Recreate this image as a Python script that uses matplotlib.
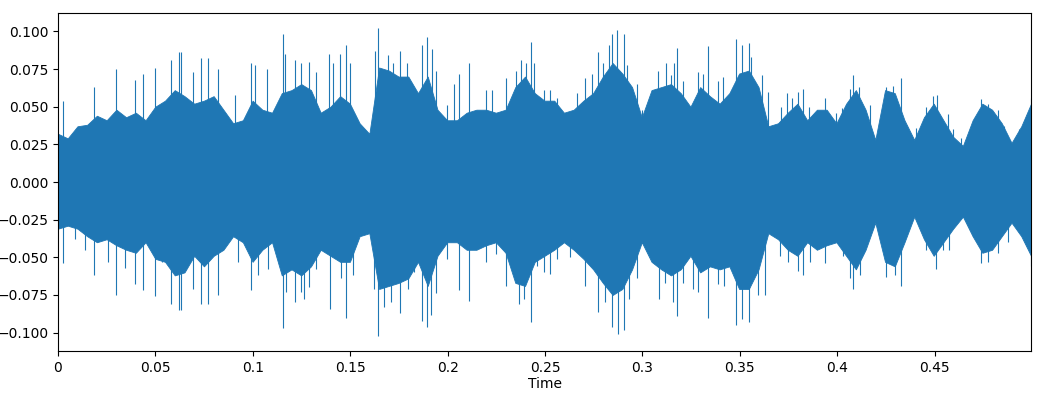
import numpy as np
import matplotlib
matplotlib.use("Agg")
import matplotlib.pyplot as plt

# Duration of the clip (s)
duration = 0.4995

# Dense core of the waveform envelope, sampled every 0.005 s
core_upper = [0.032, 0.029, 0.037, 0.038, 0.044, 0.041, 0.048, 0.043, 0.046, 0.041,
              0.050, 0.054, 0.061, 0.057, 0.052, 0.054, 0.057, 0.048, 0.039, 0.041,
              0.054, 0.048, 0.046, 0.059, 0.061, 0.065, 0.061, 0.046, 0.050, 0.057,
              0.052, 0.039, 0.032, 0.076, 0.074, 0.070, 0.070, 0.059, 0.070, 0.048,
              0.041, 0.041, 0.046, 0.048, 0.048, 0.046, 0.048, 0.063, 0.070, 0.059,
              0.054, 0.054, 0.046, 0.048, 0.054, 0.059, 0.070, 0.079, 0.072, 0.063,
              0.043, 0.061, 0.063, 0.065, 0.059, 0.050, 0.063, 0.057, 0.052, 0.059,
              0.072, 0.074, 0.063, 0.037, 0.039, 0.046, 0.052, 0.041, 0.048, 0.048,
              0.039, 0.052, 0.061, 0.048, 0.028, 0.061, 0.059, 0.041, 0.028, 0.043,
              0.052, 0.041, 0.030, 0.024, 0.041, 0.052, 0.048, 0.039, 0.026, 0.037,
              0.052]
core_lower = [-0.031, -0.029, -0.031, -0.036, -0.040, -0.038, -0.042, -0.045, -0.047, -0.040,
              -0.051, -0.053, -0.062, -0.060, -0.049, -0.056, -0.049, -0.045, -0.036, -0.040,
              -0.053, -0.045, -0.040, -0.062, -0.058, -0.062, -0.056, -0.045, -0.049, -0.053,
              -0.053, -0.036, -0.034, -0.071, -0.069, -0.067, -0.064, -0.053, -0.069, -0.049,
              -0.040, -0.040, -0.045, -0.045, -0.042, -0.040, -0.047, -0.067, -0.069, -0.053,
              -0.049, -0.045, -0.040, -0.045, -0.051, -0.058, -0.067, -0.075, -0.071, -0.058,
              -0.040, -0.053, -0.058, -0.062, -0.058, -0.049, -0.060, -0.056, -0.058, -0.056,
              -0.071, -0.071, -0.058, -0.034, -0.038, -0.045, -0.049, -0.040, -0.045, -0.042,
              -0.040, -0.049, -0.058, -0.045, -0.027, -0.053, -0.056, -0.040, -0.023, -0.038,
              -0.049, -0.040, -0.031, -0.023, -0.036, -0.047, -0.045, -0.036, -0.027, -0.036,
              -0.049]

# Positive spikes (time s, amplitude)
spike_up_t = [0.0027, 0.0186, 0.030, 0.0395, 0.0438, 0.0498, 0.058, 0.0623,
              0.063, 0.0693, 0.0736, 0.077, 0.0821, 0.091, 0.0989, 0.1013, 0.1071,
              0.1157, 0.1164, 0.1215, 0.1249,
              0.129, 0.1324, 0.1393, 0.141, 0.1449, 0.1478, 0.150, 0.1627, 0.1644,
              0.1692, 0.172, 0.1756, 0.179, 0.1867,
              0.1893, 0.1922, 0.1939, 0.1995, 0.2033, 0.2058, 0.211, 0.2195, 0.223,
              0.2298, 0.235, 0.2375, 0.240, 0.2427, 0.2444, 0.2495,
              0.2524, 0.2562, 0.2664, 0.2707, 0.2741, 0.277, 0.280, 0.2827, 0.2844,
              0.287, 0.2904, 0.292, 0.2972, 0.300, 0.308, 0.3121, 0.3147,
              0.316, 0.3179, 0.321, 0.3287, 0.331, 0.3338, 0.339, 0.3416, 0.348,
              0.351, 0.3549, 0.356, 0.3612, 0.3643, 0.371, 0.3744, 0.3766,
              0.3799, 0.3824, 0.3855, 0.3936, 0.3996, 0.4027, 0.4065, 0.4081, 0.4112,
              0.4167, 0.4252, 0.4286, 0.4329, 0.4406,
              0.4456, 0.449, 0.451, 0.4533, 0.4567, 0.4593, 0.4635, 0.4687, 0.4713,
              0.4738, 0.4772, 0.4824, 0.4858, 0.4935, 0.497, 0.4995]
spike_up_v = [0.054, 0.063, 0.075, 0.068, 0.072, 0.076, 0.081, 0.086,
              0.086, 0.073, 0.082, 0.082, 0.075, 0.058, 0.079, 0.078, 0.075,
              0.098, 0.085, 0.081, 0.079,
              0.080, 0.073, 0.085, 0.079, 0.085, 0.091, 0.079, 0.087, 0.102,
              0.084, 0.079, 0.087, 0.079, 0.091,
              0.096, 0.088, 0.074, 0.051, 0.065, 0.072, 0.079, 0.061, 0.061,
              0.069, 0.074, 0.081, 0.079, 0.093, 0.079, 0.061,
              0.061, 0.056, 0.059, 0.069, 0.072, 0.086, 0.079, 0.091, 0.098,
              0.101, 0.098, 0.078, 0.065, 0.048, 0.074, 0.079, 0.071,
              0.079, 0.089, 0.067, 0.073, 0.072, 0.090, 0.067, 0.070, 0.095,
              0.091, 0.092, 0.083, 0.071, 0.060, 0.050, 0.059, 0.056,
              0.060, 0.062, 0.050, 0.056, 0.046, 0.049, 0.062, 0.071, 0.063,
              0.051, 0.063, 0.064, 0.069, 0.036,
              0.050, 0.057, 0.058, 0.041, 0.045, 0.035, 0.029, 0.035, 0.043,
              0.055, 0.052, 0.048, 0.037, 0.035, 0.043, 0.056]

# Negative spikes (time s, amplitude)
spike_dn_t = [0.0027, 0.0087, 0.014, 0.0187, 0.0258, 0.030, 0.0344, 0.0395, 0.0438,
              0.0498, 0.0532, 0.058, 0.0621,
              0.063, 0.0693, 0.0736, 0.077, 0.0821, 0.0924, 0.0993, 0.1027, 0.1078,
              0.1157, 0.1172, 0.1218, 0.1249,
              0.1261, 0.129, 0.1324, 0.1398, 0.1453, 0.1479, 0.1513, 0.1621, 0.1645,
              0.1672, 0.171, 0.1756, 0.1795, 0.1830, 0.1867,
              0.1893, 0.1917, 0.1939, 0.1999, 0.2058, 0.211, 0.2195, 0.2247, 0.2298,
              0.2367, 0.2392, 0.2427, 0.2461, 0.2495,
              0.2524, 0.2562, 0.2630, 0.2707, 0.277, 0.281, 0.2844, 0.2873, 0.2904,
              0.2930, 0.2972, 0.3084, 0.3118, 0.3147,
              0.3156, 0.318, 0.321, 0.3262, 0.3287, 0.3338, 0.339, 0.342, 0.348,
              0.351, 0.3549, 0.3595, 0.363, 0.3707, 0.3749,
              0.3799, 0.3825, 0.386, 0.3936, 0.403, 0.4065, 0.4081, 0.4116, 0.4252,
              0.4295, 0.4329,
              0.4456, 0.4507, 0.4541, 0.4576, 0.4695, 0.4738, 0.4772, 0.4824, 0.4875,
              0.497, 0.4995]
spike_dn_v = [-0.054, -0.038, -0.045, -0.062, -0.053, -0.075, -0.057, -0.068, -0.072,
              -0.076, -0.053, -0.081, -0.085,
              -0.085, -0.071, -0.081, -0.081, -0.075, -0.053, -0.072, -0.062, -0.058,
              -0.097, -0.073, -0.080, -0.073,
              -0.078, -0.070, -0.058, -0.084, -0.064, -0.090, -0.062, -0.071, -0.102,
              -0.083, -0.080, -0.087, -0.071, -0.060, -0.092,
              -0.096, -0.088, -0.074, -0.051, -0.072, -0.079, -0.053, -0.048, -0.069,
              -0.081, -0.078, -0.093, -0.056, -0.060,
              -0.061, -0.051, -0.050, -0.069, -0.086, -0.080, -0.096, -0.101, -0.098,
              -0.078, -0.064, -0.078, -0.067, -0.060,
              -0.080, -0.089, -0.067, -0.071, -0.073, -0.090, -0.068, -0.069, -0.095,
              -0.091, -0.093, -0.075, -0.075, -0.049, -0.053,
              -0.059, -0.062, -0.053, -0.054, -0.049, -0.064, -0.071, -0.062, -0.063,
              -0.062, -0.069,
              -0.045, -0.058, -0.045, -0.045, -0.036, -0.054, -0.053, -0.047, -0.040,
              -0.038, -0.056]

x_ticks = [0, 0.05, 0.1, 0.15, 0.2, 0.25, 0.3, 0.35, 0.4, 0.45]
x_tick_labels = ["0", "0.05", "0.1", "0.15", "0.2", "0.25", "0.3", "0.35", "0.4", "0.45"]
y_ticks = [-0.100, -0.075, -0.050, -0.025, 0.0, 0.025, 0.050, 0.075, 0.100]

color = "#1f77b4"
t_core = np.linspace(0, duration, len(core_upper))

fig = plt.figure(figsize=(10.43, 3.99), dpi=100)
ax = fig.add_axes([58 / 1043, 1 - 351 / 399, (1031 - 58) / 1043, (351 - 13) / 399])

ax.fill_between(t_core, core_lower, core_upper, color=color, linewidth=0.6,
                edgecolor=color)
ax.vlines(spike_up_t, 0, spike_up_v, color=color, linewidth=0.8)
ax.vlines(spike_dn_t, spike_dn_v, 0, color=color, linewidth=0.8)

peak = max(max(spike_up_v), -min(spike_dn_v))
ax.set_xlim(0, duration)
ax.set_ylim(-peak * 1.1, peak * 1.1)
ax.set_xticks(x_ticks)
ax.set_xticklabels(x_tick_labels)
ax.set_yticks(y_ticks)
ax.set_xlabel("Time", labelpad=2)

fig.savefig("out.png", dpi=100)
